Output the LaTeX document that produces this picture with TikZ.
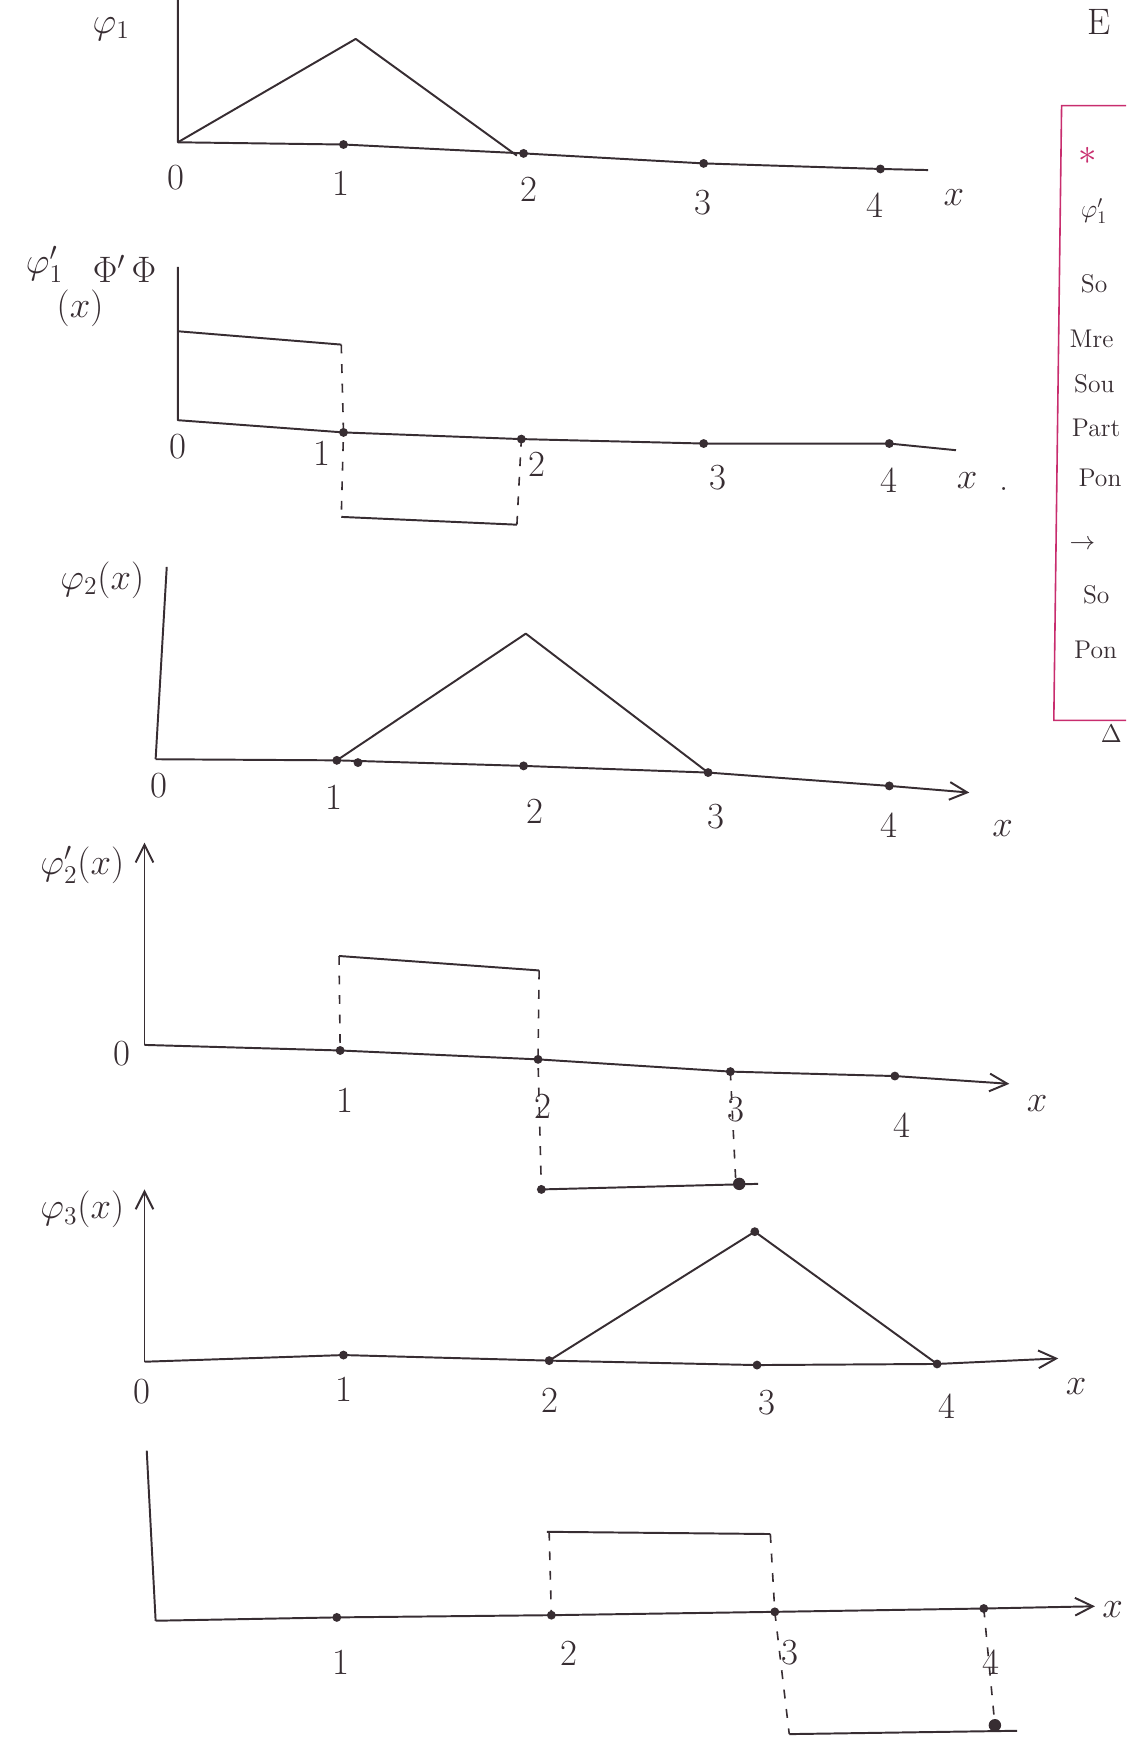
\documentclass[tikz,border=0pt]{standalone}
\usepackage{amsmath}
\usetikzlibrary{arrows.meta}
\definecolor{ink}{RGB}{55,45,50}
\definecolor{redink}{RGB}{200,45,110}

\begin{document}
\begin{tikzpicture}[
  x=0.022cm, y=-0.022cm,
  font=\huge,
  axis/.style={draw=ink, line width=1.1pt, line join=round},
  axarr/.style={axis, -{Straight Barb[length=3.5mm,width=3.5mm]}},
  curve/.style={draw=ink, line width=1.1pt, line join=round},
  guide/.style={draw=ink, line width=0.9pt, dash pattern=on 5pt off 6pt},
  knot/.style={circle, fill=ink, inner sep=0pt, minimum size=5pt},
  num/.style={text=ink, inner sep=1pt},
  note/.style={text=ink, anchor=west, inner sep=0pt, font=\Large},
]
\useasboundingbox (0,0) rectangle (1013,1568);
\clip (0,0) rectangle (1013,1568);

% phi_1
\coordinate (a0) at (160,128);
\coordinate (a1) at (309,130);
\coordinate (a2) at (471,138);
\coordinate (a3) at (633,147);
\coordinate (a4) at (792,152);
\coordinate (aend) at (835,153);
\draw[axis] (160,0) -- (a0) -- (a1) -- (a2) -- (a3) -- (a4) -- (aend);
\foreach \k in {1,...,4} \node[knot] at (a\k) {};
\draw[curve] (a0) -- (320,35) -- (465,140);
\node[num] (la) at (100,26) {$\varphi_1$};
\node[num] at (158,160) {0};
\node[num] at (307,165) {1};
\node[num] at (476,170) {2};
\node[num] at (632,182) {3};
\node[num] at (787,185) {4};
\node[num] at (858,178) {$x$};

% phi_1'
\coordinate (b0) at (160,378);
\coordinate (b1) at (309,389);
\coordinate (b2) at (469,395);
\coordinate (b3) at (633,399);
\coordinate (b4) at (800,399);
\coordinate (bend) at (860,405);
\draw[axis] (160,240) -- (b0) -- (b1) -- (b2) -- (b3) -- (b4) -- (bend);
\foreach \k in {1,...,4} \node[knot] at (b\k) {};
\draw[curve] (160,298) -- (307,310);
\draw[guide] (307,310) -- (b1) -- (307,465);
\draw[curve] (307,465) -- (465,472);
\draw[guide] (465,472) -- (b2);
\node[num] at (40,238) {$\varphi_1'$};
\node[num] at (112,242) {$\Phi'\,\Phi$};
\node[num] at (72,277) {$(x)$};
\node[num] at (160,402) {0};
\node[num] at (290,408) {1};
\node[num] at (483,418) {2};
\node[num] at (646,430) {3};
\node[num] at (800,432) {4};
\node[num] at (870,432) {$x$};
\node[num] at (903,440) {.};

% phi_2
\coordinate (c0) at (140,683);
\coordinate (c1) at (303,684);
\coordinate (c2) at (471,689);
\coordinate (c3) at (637,695);
\coordinate (c4) at (800,707);
\coordinate (cend) at (872,713);
\draw[axis] (150,510) -- (c0);
\draw[axarr] (c0) -- (c1) -- (c2) -- (c3) -- (c4) -- (cend);
\foreach \k in {1,...,4} \node[knot] at (c\k) {};
\node[knot] at (322,686) {};
\draw[curve] (c1) -- (473,570) -- (c3);
\node[num] at (92,522) {$\varphi_2(x)$};
\node[num] at (143,707) {0};
\node[num] at (300,717) {1};
\node[num] at (481,730) {2};
\node[num] at (644,735) {3};
\node[num] at (800,742) {4};
\node[num] at (902,745) {$x$};

% phi_2'
\coordinate (d0) at (130,940);
\coordinate (d1) at (306,945);
\coordinate (d2) at (484,953);
\coordinate (d3) at (657,964);
\coordinate (d4) at (805,968);
\coordinate (dend) at (908,975);
\draw[axarr] (d0) -- (130,758);
\draw[axarr] (d0) -- (d1) -- (d2) -- (d3) -- (d4) -- (dend);
\foreach \k in {1,...,4} \node[knot] at (d\k) {};
\draw[curve] (305,860) -- (485,873);
\draw[guide] (305,860) -- (d1);
\draw[guide] (485,873) -- (d2) -- (487,1070);
\draw[curve] (487,1070) -- (682,1065);
\draw[guide] (d3) -- (662,1065);
\node[knot] at (487,1070) {};
\node[knot, minimum size=7pt] at (665,1065) {};
\node[num] at (74,778) {$\varphi_2'(x)$};
\node[num] at (110,948) {0};
\node[num] at (310,990) {1};
\node[num] at (488,995) {2};
\node[num] at (662,998) {3};
\node[num] at (811,1012) {4};
\node[num] at (933,993) {$x$};

% phi_3
\coordinate (e0) at (130,1225);
\coordinate (e1) at (309,1219);
\coordinate (e2) at (494,1224);
\coordinate (e3) at (681,1228);
\coordinate (e4) at (843,1227);
\coordinate (eend) at (952,1222);
\draw[axarr] (e0) -- (130,1070);
\draw[axarr] (e0) -- (e1) -- (e2) -- (e3) -- (e4) -- (eend);
\foreach \k in {1,...,4} \node[knot] at (e\k) {};
\draw[curve] (e2) -- (679,1108) -- (e4);
\node[knot] at (679,1108) {};
\node[num] at (74,1088) {$\varphi_3(x)$};
\node[num] at (128,1252) {0};
\node[num] at (309,1250) {1};
\node[num] at (495,1260) {2};
\node[num] at (690,1262) {3};
\node[num] at (852,1265) {4};
\node[num] at (968,1247) {$x$};

% phi_3'
\coordinate (f0) at (140,1458);
\coordinate (f1) at (303,1455);
\coordinate (f2) at (496,1453);
\coordinate (f3) at (697,1450);
\coordinate (f4) at (885,1447);
\coordinate (fend) at (985,1445);
\draw[axis] (132,1305) -- (f0);
\draw[axarr] (f0) -- (f1) -- (f2) -- (f3) -- (f4) -- (fend);
\foreach \k in {1,...,4} \node[knot] at (f\k) {};
\draw[curve] (492,1378) -- (693,1380);
\draw[guide] (494,1378) -- (f2);
\draw[guide] (693,1380) -- (f3) -- (710,1560);
\draw[curve] (710,1560) -- (915,1557);
\draw[guide] (f4) -- (895,1552);
\node[knot, minimum size=7pt] at (895,1552) {};
\node[num] at (307,1495) {1};
\node[num] at (512,1487) {2};
\node[num] at (711,1487) {3};
\node[num] at (891,1495) {4};
\node[num] at (1001,1448) {$x$};

% margin notes
\draw[draw=redink, line width=0.9pt] (1013,95) -- (955,95) -- (948,648) -- (1013,648);
\node[note, font=\huge] at (978,20) {E};
\node[note, text=redink, font=\huge] at (970,140) {$\ast$};
\node[note] at (972,190) {$\varphi_1'$};
\node[note] at (972,255) {So};
\node[note] at (962,305) {Mre};
\node[note] at (966,345) {Sou};
\node[note] at (964,385) {Part};
\node[note] at (970,430) {Pon};
\node[note] at (962,490) {$\rightarrow$};
\node[note] at (974,535) {So};
\node[note] at (966,585) {Pon};
\node[note] at (990,660) {$\Delta$};
\end{tikzpicture}
\end{document}
